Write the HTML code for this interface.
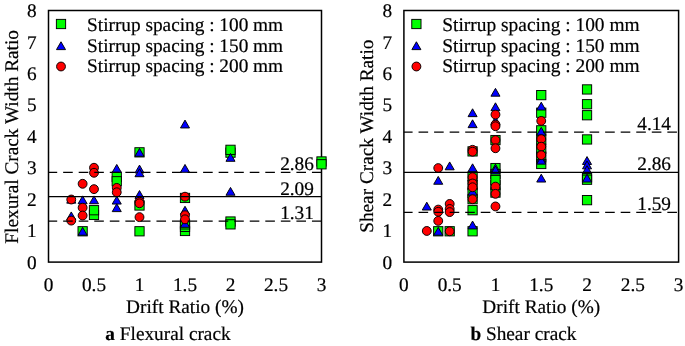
<!DOCTYPE html><html><head><meta charset="utf-8"><style>html,body{margin:0;padding:0;background:#fff}svg{display:block;will-change:transform}text{text-rendering:geometricPrecision}text{font-family:"Liberation Serif",serif;fill:#000;stroke:#000;stroke-width:0.2px}</style></head><body>
<svg width="685" height="346" viewBox="0 0 685 346">
<rect width="685" height="346" fill="#fff"/>
<rect x="48.50" y="10.50" width="273.00" height="251.60" fill="none" stroke="#000" stroke-width="1.5"/>
<text x="36.70" y="268.70" font-size="19.3" text-anchor="end">0</text>
<text x="36.70" y="237.25" font-size="19.3" text-anchor="end">1</text>
<text x="36.70" y="205.80" font-size="19.3" text-anchor="end">2</text>
<text x="36.70" y="174.35" font-size="19.3" text-anchor="end">3</text>
<text x="36.70" y="142.90" font-size="19.3" text-anchor="end">4</text>
<text x="36.70" y="111.45" font-size="19.3" text-anchor="end">5</text>
<text x="36.70" y="80.00" font-size="19.3" text-anchor="end">6</text>
<text x="36.70" y="48.55" font-size="19.3" text-anchor="end">7</text>
<text x="36.70" y="17.10" font-size="19.3" text-anchor="end">8</text>
<text x="48.50" y="291.2" font-size="19.3" text-anchor="middle">0</text>
<text x="94.00" y="291.2" font-size="19.3" text-anchor="middle">0.5</text>
<text x="139.50" y="291.2" font-size="19.3" text-anchor="middle">1</text>
<text x="185.00" y="291.2" font-size="19.3" text-anchor="middle">1.5</text>
<text x="230.50" y="291.2" font-size="19.3" text-anchor="middle">2</text>
<text x="276.00" y="291.2" font-size="19.3" text-anchor="middle">2.5</text>
<text x="321.50" y="291.2" font-size="19.3" text-anchor="middle">3</text>
<text x="185.00" y="313.2" font-size="19.3" text-anchor="middle">Drift Ratio (%)</text>
<text transform="translate(18.00,136.85) rotate(-90)" x="0" y="0" font-size="19.3" text-anchor="middle">Flexural Crack Width Ratio</text>
<text x="168.00" y="339.8" font-size="19.3" text-anchor="middle"><tspan font-weight="bold">a</tspan> Flexural crack</text>
<rect x="56.38" y="19.38" width="9.25" height="9.25" fill="#00ff00" stroke="#000" stroke-width="0.95"/>
<text x="87.10" y="30.80" font-size="19.3">Stirrup spacing : 100 mm</text>
<path d="M61.00 41.78L65.53 49.62L56.48 49.62Z" fill="#0000ff" stroke="#000" stroke-width="0.95" stroke-linejoin="miter"/>
<text x="87.10" y="52.30" font-size="19.3">Stirrup spacing : 150 mm</text>
<circle cx="61.00" cy="66.50" r="4.43" fill="#ff0000" stroke="#000" stroke-width="0.95"/>
<text x="87.10" y="72.40" font-size="19.3">Stirrup spacing : 200 mm</text>
<rect x="78.00" y="226.65" width="9.25" height="9.25" fill="#00ff00" stroke="#000" stroke-width="0.95"/>
<rect x="89.38" y="210.30" width="9.25" height="9.25" fill="#00ff00" stroke="#000" stroke-width="0.95"/>
<rect x="89.38" y="205.58" width="9.25" height="9.25" fill="#00ff00" stroke="#000" stroke-width="0.95"/>
<rect x="112.12" y="172.25" width="9.25" height="9.25" fill="#00ff00" stroke="#000" stroke-width="0.95"/>
<rect x="112.12" y="176.65" width="9.25" height="9.25" fill="#00ff00" stroke="#000" stroke-width="0.95"/>
<rect x="134.88" y="147.71" width="9.25" height="9.25" fill="#00ff00" stroke="#000" stroke-width="0.95"/>
<rect x="134.88" y="200.87" width="9.25" height="9.25" fill="#00ff00" stroke="#000" stroke-width="0.95"/>
<rect x="134.88" y="226.65" width="9.25" height="9.25" fill="#00ff00" stroke="#000" stroke-width="0.95"/>
<rect x="180.38" y="193.32" width="9.25" height="9.25" fill="#00ff00" stroke="#000" stroke-width="0.95"/>
<rect x="180.38" y="226.34" width="9.25" height="9.25" fill="#00ff00" stroke="#000" stroke-width="0.95"/>
<rect x="180.38" y="222.25" width="9.25" height="9.25" fill="#00ff00" stroke="#000" stroke-width="0.95"/>
<rect x="180.38" y="219.74" width="9.25" height="9.25" fill="#00ff00" stroke="#000" stroke-width="0.95"/>
<rect x="225.88" y="148.03" width="9.25" height="9.25" fill="#00ff00" stroke="#000" stroke-width="0.95"/>
<rect x="225.88" y="145.20" width="9.25" height="9.25" fill="#00ff00" stroke="#000" stroke-width="0.95"/>
<rect x="225.88" y="216.90" width="9.25" height="9.25" fill="#00ff00" stroke="#000" stroke-width="0.95"/>
<rect x="225.88" y="219.74" width="9.25" height="9.25" fill="#00ff00" stroke="#000" stroke-width="0.95"/>
<rect x="316.88" y="156.84" width="9.25" height="9.25" fill="#00ff00" stroke="#000" stroke-width="0.95"/>
<rect x="316.88" y="159.67" width="9.25" height="9.25" fill="#00ff00" stroke="#000" stroke-width="0.95"/>
<path d="M71.25 195.28L75.78 203.13L66.72 203.13Z" fill="#0000ff" stroke="#000" stroke-width="0.95" stroke-linejoin="miter"/>
<path d="M71.25 211.94L75.78 219.79L66.72 219.79Z" fill="#0000ff" stroke="#000" stroke-width="0.95" stroke-linejoin="miter"/>
<path d="M82.62 227.35L87.15 235.20L78.10 235.20Z" fill="#0000ff" stroke="#000" stroke-width="0.95" stroke-linejoin="miter"/>
<path d="M82.62 195.90L87.15 203.75L78.10 203.75Z" fill="#0000ff" stroke="#000" stroke-width="0.95" stroke-linejoin="miter"/>
<path d="M94.00 195.90L98.53 203.75L89.47 203.75Z" fill="#0000ff" stroke="#000" stroke-width="0.95" stroke-linejoin="miter"/>
<path d="M116.75 164.45L121.28 172.30L112.22 172.30Z" fill="#0000ff" stroke="#000" stroke-width="0.95" stroke-linejoin="miter"/>
<path d="M116.75 196.22L121.28 204.07L112.22 204.07Z" fill="#0000ff" stroke="#000" stroke-width="0.95" stroke-linejoin="miter"/>
<path d="M116.75 203.77L121.28 211.62L112.22 211.62Z" fill="#0000ff" stroke="#000" stroke-width="0.95" stroke-linejoin="miter"/>
<path d="M139.50 148.41L144.03 156.26L134.97 156.26Z" fill="#0000ff" stroke="#000" stroke-width="0.95" stroke-linejoin="miter"/>
<path d="M139.50 165.08L144.03 172.93L134.97 172.93Z" fill="#0000ff" stroke="#000" stroke-width="0.95" stroke-linejoin="miter"/>
<path d="M139.50 168.86L144.03 176.71L134.97 176.71Z" fill="#0000ff" stroke="#000" stroke-width="0.95" stroke-linejoin="miter"/>
<path d="M139.50 190.56L144.03 198.41L134.97 198.41Z" fill="#0000ff" stroke="#000" stroke-width="0.95" stroke-linejoin="miter"/>
<path d="M185.00 120.11L189.53 127.96L180.47 127.96Z" fill="#0000ff" stroke="#000" stroke-width="0.95" stroke-linejoin="miter"/>
<path d="M185.00 164.45L189.53 172.30L180.47 172.30Z" fill="#0000ff" stroke="#000" stroke-width="0.95" stroke-linejoin="miter"/>
<path d="M185.00 206.28L189.53 214.13L180.47 214.13Z" fill="#0000ff" stroke="#000" stroke-width="0.95" stroke-linejoin="miter"/>
<path d="M185.00 219.49L189.53 227.34L180.47 227.34Z" fill="#0000ff" stroke="#000" stroke-width="0.95" stroke-linejoin="miter"/>
<path d="M230.50 153.45L235.03 161.30L225.97 161.30Z" fill="#0000ff" stroke="#000" stroke-width="0.95" stroke-linejoin="miter"/>
<path d="M230.50 187.41L235.03 195.26L225.97 195.26Z" fill="#0000ff" stroke="#000" stroke-width="0.95" stroke-linejoin="miter"/>
<circle cx="71.25" cy="199.51" r="4.43" fill="#ff0000" stroke="#000" stroke-width="0.95"/>
<circle cx="71.25" cy="220.59" r="4.43" fill="#ff0000" stroke="#000" stroke-width="0.95"/>
<circle cx="82.62" cy="183.79" r="4.43" fill="#ff0000" stroke="#000" stroke-width="0.95"/>
<circle cx="82.62" cy="207.69" r="4.43" fill="#ff0000" stroke="#000" stroke-width="0.95"/>
<circle cx="82.62" cy="215.55" r="4.43" fill="#ff0000" stroke="#000" stroke-width="0.95"/>
<circle cx="94.00" cy="167.75" r="4.43" fill="#ff0000" stroke="#000" stroke-width="0.95"/>
<circle cx="94.00" cy="172.78" r="4.43" fill="#ff0000" stroke="#000" stroke-width="0.95"/>
<circle cx="94.00" cy="189.14" r="4.43" fill="#ff0000" stroke="#000" stroke-width="0.95"/>
<circle cx="116.75" cy="187.88" r="4.43" fill="#ff0000" stroke="#000" stroke-width="0.95"/>
<circle cx="116.75" cy="192.28" r="4.43" fill="#ff0000" stroke="#000" stroke-width="0.95"/>
<circle cx="139.50" cy="201.72" r="4.43" fill="#ff0000" stroke="#000" stroke-width="0.95"/>
<circle cx="139.50" cy="203.29" r="4.43" fill="#ff0000" stroke="#000" stroke-width="0.95"/>
<circle cx="139.50" cy="217.13" r="4.43" fill="#ff0000" stroke="#000" stroke-width="0.95"/>
<circle cx="185.00" cy="196.68" r="4.43" fill="#ff0000" stroke="#000" stroke-width="0.95"/>
<circle cx="185.00" cy="215.24" r="4.43" fill="#ff0000" stroke="#000" stroke-width="0.95"/>
<circle cx="185.00" cy="219.33" r="4.43" fill="#ff0000" stroke="#000" stroke-width="0.95"/>
<line x1="48.50" y1="172.40" x2="321.50" y2="172.40" stroke="#000" stroke-width="1.4" stroke-dasharray="9.6 5.95" stroke-dashoffset="0.9"/>
<text x="313.90" y="170.35" font-size="19.3" text-anchor="end">2.86</text>
<line x1="48.50" y1="196.62" x2="321.50" y2="196.62" stroke="#000" stroke-width="1.4"/>
<text x="313.90" y="194.57" font-size="19.3" text-anchor="end">2.09</text>
<line x1="48.50" y1="221.15" x2="321.50" y2="221.15" stroke="#000" stroke-width="1.4" stroke-dasharray="9.6 5.95" stroke-dashoffset="0.9"/>
<text x="313.90" y="219.10" font-size="19.3" text-anchor="end">1.31</text>
<rect x="403.90" y="10.50" width="274.70" height="251.60" fill="none" stroke="#000" stroke-width="1.5"/>
<text x="392.10" y="268.70" font-size="19.3" text-anchor="end">0</text>
<text x="392.10" y="237.25" font-size="19.3" text-anchor="end">1</text>
<text x="392.10" y="205.80" font-size="19.3" text-anchor="end">2</text>
<text x="392.10" y="174.35" font-size="19.3" text-anchor="end">3</text>
<text x="392.10" y="142.90" font-size="19.3" text-anchor="end">4</text>
<text x="392.10" y="111.45" font-size="19.3" text-anchor="end">5</text>
<text x="392.10" y="80.00" font-size="19.3" text-anchor="end">6</text>
<text x="392.10" y="48.55" font-size="19.3" text-anchor="end">7</text>
<text x="392.10" y="17.10" font-size="19.3" text-anchor="end">8</text>
<text x="403.90" y="291.2" font-size="19.3" text-anchor="middle">0</text>
<text x="449.68" y="291.2" font-size="19.3" text-anchor="middle">0.5</text>
<text x="495.47" y="291.2" font-size="19.3" text-anchor="middle">1</text>
<text x="541.25" y="291.2" font-size="19.3" text-anchor="middle">1.5</text>
<text x="587.03" y="291.2" font-size="19.3" text-anchor="middle">2</text>
<text x="632.82" y="291.2" font-size="19.3" text-anchor="middle">2.5</text>
<text x="678.60" y="291.2" font-size="19.3" text-anchor="middle">3</text>
<text x="541.25" y="313.2" font-size="19.3" text-anchor="middle">Drift Ratio (%)</text>
<text transform="translate(373.40,136.20) rotate(-90)" x="0" y="0" font-size="19.3" text-anchor="middle">Shear Crack Width Ratio</text>
<text x="523.40" y="339.8" font-size="19.3" text-anchor="middle"><tspan font-weight="bold">b</tspan> Shear crack</text>
<rect x="411.77" y="19.38" width="9.25" height="9.25" fill="#00ff00" stroke="#000" stroke-width="0.95"/>
<text x="442.30" y="30.80" font-size="19.42">Stirrup spacing : 100 mm</text>
<path d="M416.40 41.78L420.92 49.62L411.88 49.62Z" fill="#0000ff" stroke="#000" stroke-width="0.95" stroke-linejoin="miter"/>
<text x="442.30" y="52.30" font-size="19.42">Stirrup spacing : 150 mm</text>
<circle cx="416.40" cy="66.50" r="4.43" fill="#ff0000" stroke="#000" stroke-width="0.95"/>
<text x="442.30" y="72.40" font-size="19.42">Stirrup spacing : 200 mm</text>
<rect x="433.61" y="226.65" width="9.25" height="9.25" fill="#00ff00" stroke="#000" stroke-width="0.95"/>
<rect x="445.06" y="226.65" width="9.25" height="9.25" fill="#00ff00" stroke="#000" stroke-width="0.95"/>
<rect x="467.95" y="146.77" width="9.25" height="9.25" fill="#00ff00" stroke="#000" stroke-width="0.95"/>
<rect x="467.95" y="171.93" width="9.25" height="9.25" fill="#00ff00" stroke="#000" stroke-width="0.95"/>
<rect x="467.95" y="180.42" width="9.25" height="9.25" fill="#00ff00" stroke="#000" stroke-width="0.95"/>
<rect x="467.95" y="188.29" width="9.25" height="9.25" fill="#00ff00" stroke="#000" stroke-width="0.95"/>
<rect x="467.95" y="194.58" width="9.25" height="9.25" fill="#00ff00" stroke="#000" stroke-width="0.95"/>
<rect x="467.95" y="205.58" width="9.25" height="9.25" fill="#00ff00" stroke="#000" stroke-width="0.95"/>
<rect x="467.95" y="226.65" width="9.25" height="9.25" fill="#00ff00" stroke="#000" stroke-width="0.95"/>
<rect x="490.84" y="135.45" width="9.25" height="9.25" fill="#00ff00" stroke="#000" stroke-width="0.95"/>
<rect x="490.84" y="163.44" width="9.25" height="9.25" fill="#00ff00" stroke="#000" stroke-width="0.95"/>
<rect x="490.84" y="169.42" width="9.25" height="9.25" fill="#00ff00" stroke="#000" stroke-width="0.95"/>
<rect x="490.84" y="187.97" width="9.25" height="9.25" fill="#00ff00" stroke="#000" stroke-width="0.95"/>
<rect x="490.84" y="180.42" width="9.25" height="9.25" fill="#00ff00" stroke="#000" stroke-width="0.95"/>
<rect x="490.84" y="175.39" width="9.25" height="9.25" fill="#00ff00" stroke="#000" stroke-width="0.95"/>
<rect x="536.62" y="90.48" width="9.25" height="9.25" fill="#00ff00" stroke="#000" stroke-width="0.95"/>
<rect x="536.62" y="108.09" width="9.25" height="9.25" fill="#00ff00" stroke="#000" stroke-width="0.95"/>
<rect x="536.62" y="134.82" width="9.25" height="9.25" fill="#00ff00" stroke="#000" stroke-width="0.95"/>
<rect x="536.62" y="144.26" width="9.25" height="9.25" fill="#00ff00" stroke="#000" stroke-width="0.95"/>
<rect x="536.62" y="152.12" width="9.25" height="9.25" fill="#00ff00" stroke="#000" stroke-width="0.95"/>
<rect x="536.62" y="159.35" width="9.25" height="9.25" fill="#00ff00" stroke="#000" stroke-width="0.95"/>
<rect x="536.62" y="125.70" width="9.25" height="9.25" fill="#00ff00" stroke="#000" stroke-width="0.95"/>
<rect x="582.41" y="84.81" width="9.25" height="9.25" fill="#00ff00" stroke="#000" stroke-width="0.95"/>
<rect x="582.41" y="99.60" width="9.25" height="9.25" fill="#00ff00" stroke="#000" stroke-width="0.95"/>
<rect x="582.41" y="110.60" width="9.25" height="9.25" fill="#00ff00" stroke="#000" stroke-width="0.95"/>
<rect x="582.41" y="134.82" width="9.25" height="9.25" fill="#00ff00" stroke="#000" stroke-width="0.95"/>
<rect x="582.41" y="172.56" width="9.25" height="9.25" fill="#00ff00" stroke="#000" stroke-width="0.95"/>
<rect x="582.41" y="175.08" width="9.25" height="9.25" fill="#00ff00" stroke="#000" stroke-width="0.95"/>
<rect x="582.41" y="195.52" width="9.25" height="9.25" fill="#00ff00" stroke="#000" stroke-width="0.95"/>
<path d="M426.79 202.19L431.32 210.04L422.27 210.04Z" fill="#0000ff" stroke="#000" stroke-width="0.95" stroke-linejoin="miter"/>
<path d="M438.24 176.41L442.76 184.26L433.71 184.26Z" fill="#0000ff" stroke="#000" stroke-width="0.95" stroke-linejoin="miter"/>
<path d="M438.24 227.35L442.76 235.20L433.71 235.20Z" fill="#0000ff" stroke="#000" stroke-width="0.95" stroke-linejoin="miter"/>
<path d="M449.68 161.94L454.21 169.79L445.16 169.79Z" fill="#0000ff" stroke="#000" stroke-width="0.95" stroke-linejoin="miter"/>
<path d="M472.57 108.79L477.10 116.64L468.05 116.64Z" fill="#0000ff" stroke="#000" stroke-width="0.95" stroke-linejoin="miter"/>
<path d="M472.57 119.80L477.10 127.65L468.05 127.65Z" fill="#0000ff" stroke="#000" stroke-width="0.95" stroke-linejoin="miter"/>
<path d="M472.57 163.83L477.10 171.68L468.05 171.68Z" fill="#0000ff" stroke="#000" stroke-width="0.95" stroke-linejoin="miter"/>
<path d="M472.57 187.41L477.10 195.26L468.05 195.26Z" fill="#0000ff" stroke="#000" stroke-width="0.95" stroke-linejoin="miter"/>
<path d="M472.57 221.06L477.10 228.91L468.05 228.91Z" fill="#0000ff" stroke="#000" stroke-width="0.95" stroke-linejoin="miter"/>
<path d="M495.47 88.35L499.99 96.20L490.94 96.20Z" fill="#0000ff" stroke="#000" stroke-width="0.95" stroke-linejoin="miter"/>
<path d="M495.47 102.81L499.99 110.66L490.94 110.66Z" fill="#0000ff" stroke="#000" stroke-width="0.95" stroke-linejoin="miter"/>
<path d="M495.47 116.65L499.99 124.50L490.94 124.50Z" fill="#0000ff" stroke="#000" stroke-width="0.95" stroke-linejoin="miter"/>
<path d="M495.47 164.14L499.99 171.99L490.94 171.99Z" fill="#0000ff" stroke="#000" stroke-width="0.95" stroke-linejoin="miter"/>
<path d="M495.47 166.03L499.99 173.88L490.94 173.88Z" fill="#0000ff" stroke="#000" stroke-width="0.95" stroke-linejoin="miter"/>
<path d="M541.25 102.18L545.77 110.03L536.73 110.03Z" fill="#0000ff" stroke="#000" stroke-width="0.95" stroke-linejoin="miter"/>
<path d="M541.25 127.34L545.77 135.19L536.73 135.19Z" fill="#0000ff" stroke="#000" stroke-width="0.95" stroke-linejoin="miter"/>
<path d="M541.25 154.39L545.77 162.24L536.73 162.24Z" fill="#0000ff" stroke="#000" stroke-width="0.95" stroke-linejoin="miter"/>
<path d="M541.25 156.28L545.77 164.13L536.73 164.13Z" fill="#0000ff" stroke="#000" stroke-width="0.95" stroke-linejoin="miter"/>
<path d="M541.25 174.20L545.77 182.05L536.73 182.05Z" fill="#0000ff" stroke="#000" stroke-width="0.95" stroke-linejoin="miter"/>
<path d="M587.03 156.59L591.56 164.44L582.51 164.44Z" fill="#0000ff" stroke="#000" stroke-width="0.95" stroke-linejoin="miter"/>
<path d="M587.03 160.99L591.56 168.84L582.51 168.84Z" fill="#0000ff" stroke="#000" stroke-width="0.95" stroke-linejoin="miter"/>
<path d="M587.03 165.71L591.56 173.56L582.51 173.56Z" fill="#0000ff" stroke="#000" stroke-width="0.95" stroke-linejoin="miter"/>
<path d="M587.03 174.20L591.56 182.05L582.51 182.05Z" fill="#0000ff" stroke="#000" stroke-width="0.95" stroke-linejoin="miter"/>
<circle cx="426.79" cy="230.96" r="4.43" fill="#ff0000" stroke="#000" stroke-width="0.95"/>
<circle cx="438.24" cy="168.06" r="4.43" fill="#ff0000" stroke="#000" stroke-width="0.95"/>
<circle cx="438.24" cy="209.58" r="4.43" fill="#ff0000" stroke="#000" stroke-width="0.95"/>
<circle cx="438.24" cy="211.78" r="4.43" fill="#ff0000" stroke="#000" stroke-width="0.95"/>
<circle cx="438.24" cy="220.90" r="4.43" fill="#ff0000" stroke="#000" stroke-width="0.95"/>
<circle cx="449.68" cy="203.92" r="4.43" fill="#ff0000" stroke="#000" stroke-width="0.95"/>
<circle cx="449.68" cy="208.95" r="4.43" fill="#ff0000" stroke="#000" stroke-width="0.95"/>
<circle cx="449.68" cy="212.09" r="4.43" fill="#ff0000" stroke="#000" stroke-width="0.95"/>
<circle cx="449.68" cy="231.28" r="4.43" fill="#ff0000" stroke="#000" stroke-width="0.95"/>
<circle cx="472.57" cy="149.82" r="4.43" fill="#ff0000" stroke="#000" stroke-width="0.95"/>
<circle cx="472.57" cy="151.71" r="4.43" fill="#ff0000" stroke="#000" stroke-width="0.95"/>
<circle cx="472.57" cy="177.19" r="4.43" fill="#ff0000" stroke="#000" stroke-width="0.95"/>
<circle cx="472.57" cy="183.48" r="4.43" fill="#ff0000" stroke="#000" stroke-width="0.95"/>
<circle cx="472.57" cy="187.25" r="4.43" fill="#ff0000" stroke="#000" stroke-width="0.95"/>
<circle cx="472.57" cy="199.20" r="4.43" fill="#ff0000" stroke="#000" stroke-width="0.95"/>
<circle cx="495.47" cy="114.60" r="4.43" fill="#ff0000" stroke="#000" stroke-width="0.95"/>
<circle cx="495.47" cy="124.66" r="4.43" fill="#ff0000" stroke="#000" stroke-width="0.95"/>
<circle cx="495.47" cy="126.24" r="4.43" fill="#ff0000" stroke="#000" stroke-width="0.95"/>
<circle cx="495.47" cy="140.07" r="4.43" fill="#ff0000" stroke="#000" stroke-width="0.95"/>
<circle cx="495.47" cy="148.25" r="4.43" fill="#ff0000" stroke="#000" stroke-width="0.95"/>
<circle cx="495.47" cy="186.62" r="4.43" fill="#ff0000" stroke="#000" stroke-width="0.95"/>
<circle cx="495.47" cy="193.85" r="4.43" fill="#ff0000" stroke="#000" stroke-width="0.95"/>
<circle cx="495.47" cy="206.43" r="4.43" fill="#ff0000" stroke="#000" stroke-width="0.95"/>
<circle cx="541.25" cy="120.89" r="4.43" fill="#ff0000" stroke="#000" stroke-width="0.95"/>
<circle cx="541.25" cy="139.13" r="4.43" fill="#ff0000" stroke="#000" stroke-width="0.95"/>
<circle cx="541.25" cy="146.68" r="4.43" fill="#ff0000" stroke="#000" stroke-width="0.95"/>
<circle cx="541.25" cy="155.17" r="4.43" fill="#ff0000" stroke="#000" stroke-width="0.95"/>
<line x1="403.90" y1="132.15" x2="678.60" y2="132.15" stroke="#000" stroke-width="1.4" stroke-dasharray="9.6 5.95" stroke-dashoffset="0.9"/>
<text x="671.00" y="130.10" font-size="19.3" text-anchor="end">4.14</text>
<line x1="403.90" y1="172.40" x2="678.60" y2="172.40" stroke="#000" stroke-width="1.4"/>
<text x="671.00" y="170.35" font-size="19.3" text-anchor="end">2.86</text>
<line x1="403.90" y1="212.34" x2="678.60" y2="212.34" stroke="#000" stroke-width="1.4" stroke-dasharray="9.6 5.95" stroke-dashoffset="0.9"/>
<text x="671.00" y="210.29" font-size="19.3" text-anchor="end">1.59</text>
</svg></body></html>
